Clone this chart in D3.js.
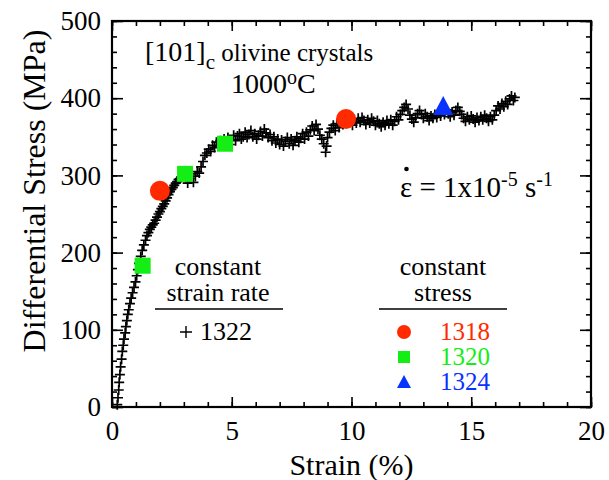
<!DOCTYPE html>
<html>
<head>
<meta charset="utf-8">
<script src="https://cdn.jsdelivr.net/npm/d3@7"></script>
<style>
  body { margin: 0; background: #fff; }
  svg text { font-family: "Liberation Serif", "Times New Roman", serif; fill: #000; }
</style>
</head>
<body>
<svg id="chart" width="609" height="480"></svg>
<script>
// constant strain rate run 1322: [strain %, stress MPa]
const run1322 = [
  [0.22,3],[0.25,12],[0.28,22],[0.30,32],[0.33,42],[0.36,52],[0.40,62],[0.43,72],[0.47,80],[0.50,88],
  [0.55,96],[0.58,104],[0.62,112],[0.66,120],[0.70,126],[0.75,134],[0.80,141],[0.86,148],[0.92,155],[0.98,162],
  [1.03,170],[1.08,178],[1.13,186],[1.20,195],[1.26,203],[1.33,210],[1.40,216],[1.46,222],[1.52,226],[1.58,230],
  [1.64,233],[1.70,236],[1.76,238],[1.82,242],[1.88,246],[1.94,250],[2.00,253],[2.06,257],[2.12,260],[2.18,263],
  [2.24,267],[2.30,271],[2.36,275],[2.42,279],[2.48,282],[2.54,284],[2.60,287],[2.66,290],[2.72,292],[2.78,295],
  [2.84,296],[2.90,298],[2.96,299],[3.00,300],[3.08,297],[3.16,290],[3.24,296],[3.32,302],[3.40,291],[3.48,299],
  [3.56,305],[3.64,303],[3.72,311],[3.80,318],[3.88,326],[3.96,329],[4.04,334],[4.12,331],[4.20,339],[4.28,336],
  [4.36,343],[4.44,338],[4.52,345],[4.60,341],[4.68,347],[4.76,343],[4.84,349],[4.92,340],[5.00,346],[5.08,352],
  [5.16,345],[5.24,351],[5.32,354],[5.40,347],[5.48,350],[5.56,356],[5.64,349],[5.72,353],[5.80,358],[5.88,350],
  [5.96,354],[6.04,347],[6.12,352],[6.20,357],[6.28,351],[6.36,360],[6.44,355],[6.52,349],[6.60,353],[6.68,345],
  [6.76,350],[6.84,342],[6.92,347],[7.00,340],[7.08,346],[7.16,338],[7.24,344],[7.32,349],[7.40,341],[7.48,347],
  [7.56,339],[7.64,345],[7.72,350],[7.80,343],[7.88,348],[7.96,354],[8.04,347],[8.12,356],[8.20,351],[8.28,359],
  [8.36,364],[8.44,358],[8.52,366],[8.60,360],[8.68,352],[8.76,347],[8.84,341],[8.92,330],[8.96,338],[9.00,349],
  [9.08,356],[9.16,361],[9.24,365],[9.32,358],[9.40,367],[9.48,362],[9.56,370],[9.64,366],[9.72,372],[9.80,368],
  [9.88,375],[9.96,370],[10.04,365],[10.12,372],[10.20,368],[10.28,374],[10.36,369],[10.44,375],[10.52,371],[10.60,366],
  [10.68,372],[10.76,368],[10.84,374],[10.92,370],[11.00,365],[11.08,371],[11.16,367],[11.24,363],[11.32,369],[11.40,365],
  [11.48,371],[11.56,367],[11.64,372],[11.72,365],[11.80,370],[11.88,376],[11.96,372],[12.04,379],[12.12,384],[12.20,388],
  [12.28,392],[12.36,386],[12.44,378],[12.52,373],[12.60,369],[12.68,375],[12.76,380],[12.84,384],[12.92,379],[13.00,374],
  [13.08,380],[13.16,376],[13.24,371],[13.32,377],[13.40,374],[13.48,379],[13.56,375],[13.64,381],[13.72,377],[13.80,383],
  [13.88,379],[13.96,385],[14.04,380],[14.12,376],[14.20,382],[14.28,378],[14.36,384],[14.44,388],[14.52,383],[14.60,379],
  [14.68,374],[14.76,370],[14.84,376],[14.92,372],[15.00,377],[15.08,373],[15.16,369],[15.24,375],[15.32,371],[15.40,376],
  [15.48,372],[15.56,378],[15.64,374],[15.72,370],[15.80,376],[15.88,372],[15.96,378],[16.04,384],[16.12,390],[16.20,386],
  [16.28,393],[16.36,389],[16.44,396],[16.52,392],[16.60,399],[16.68,403],[16.76,397],[16.82,401]
];

// constant stress runs
const run1318 = [[2.0,280],[9.77,373]];
const run1320 = [[1.28,183],[3.05,302],[4.72,341]];
const run1324 = [[13.83,390]];

const xTicks = [0, 5, 10, 15, 20];
const yTicks = [0, 100, 200, 300, 400, 500];

const RED = "#ff2a00", GREEN = "#14ee14", BLUE = "#0a32ff";

const svg = d3.select("#chart");
const margin = {left: 112, right: 18, top: 21, bottom: 73};
const W = 609, H = 480;

const x = d3.scaleLinear().domain([0, 20]).range([margin.left, W - margin.right]);
const y = d3.scaleLinear().domain([0, 500]).range([H - margin.bottom, margin.top]);

// axes: ticks pointing inward on all four sides
function styleAxis(g) {
  g.attr("font-family", null).attr("font-size", null);
  g.select(".domain").remove();
  g.selectAll("line").attr("stroke", "#000").attr("stroke-width", 1.6);
  g.selectAll("text").style("font-size", "27px");
}
const minorX = d3.range(0, 21, 1), minorY = d3.range(0, 501, 20);

svg.append("g").attr("transform", `translate(0,${y(0)})`)
  .call(d3.axisBottom(x).tickValues(minorX).tickSize(-5).tickFormat(""))
  .call(styleAxis);
svg.append("g").attr("transform", `translate(0,${y(0)})`)
  .call(d3.axisBottom(x).tickValues(xTicks).tickSize(-10).tickFormat(d3.format("d")))
  .call(styleAxis)
  .call(g => g.selectAll("text").attr("dy", null).attr("y", 33));
svg.append("g").attr("transform", `translate(0,${y(500)})`)
  .call(d3.axisTop(x).tickValues(minorX).tickSize(-5).tickFormat(""))
  .call(styleAxis);
svg.append("g").attr("transform", `translate(0,${y(500)})`)
  .call(d3.axisTop(x).tickValues(xTicks).tickSize(-10).tickFormat(""))
  .call(styleAxis);

svg.append("g").attr("transform", `translate(${x(0)},0)`)
  .call(d3.axisLeft(y).tickValues(minorY).tickSize(-5).tickFormat(""))
  .call(styleAxis);
svg.append("g").attr("transform", `translate(${x(0)},0)`)
  .call(d3.axisLeft(y).tickValues(yTicks).tickSize(-11).tickFormat(d3.format("d")))
  .call(styleAxis)
  .call(g => g.selectAll("text").attr("x", -11));
svg.append("g").attr("transform", `translate(${x(20)},0)`)
  .call(d3.axisRight(y).tickValues(minorY).tickSize(-5).tickFormat(""))
  .call(styleAxis);
svg.append("g").attr("transform", `translate(${x(20)},0)`)
  .call(d3.axisRight(y).tickValues(yTicks).tickSize(-11).tickFormat(""))
  .call(styleAxis);

// frame
svg.append("rect")
  .attr("x", x(0)).attr("y", y(500))
  .attr("width", x(20) - x(0)).attr("height", y(0) - y(500))
  .attr("fill", "none").attr("stroke", "#000").attr("stroke-width", 2.2);

// axis titles
svg.append("text").attr("x", (x(0) + x(20)) / 2).attr("y", 475)
  .attr("text-anchor", "middle").style("font-size", "30px").text("Strain (%)");
svg.append("text")
  .attr("transform", "translate(45,191) rotate(-90)")
  .attr("text-anchor", "middle").style("font-size", "32px").text("Differential Stress (MPa)");

// plus markers
svg.append("g").selectAll("path")
  .data(run1322).join("path")
  .attr("transform", d => `translate(${x(d[0])},${y(d[1])})`)
  .attr("d", "M-5,0H5M0,-5V5")
  .attr("stroke", "#000").attr("stroke-width", 1.7).attr("fill", "none");

// constant stress markers
svg.append("g").selectAll("circle")
  .data(run1318).join("circle")
  .attr("cx", d => x(d[0])).attr("cy", d => y(d[1])).attr("r", 10)
  .attr("fill", RED);
svg.append("g").selectAll("rect")
  .data(run1320).join("rect")
  .attr("x", d => x(d[0]) - 8).attr("y", d => y(d[1]) - 8)
  .attr("width", 16).attr("height", 16).attr("fill", GREEN);
svg.append("g").selectAll("path")
  .data(run1324).join("path")
  .attr("transform", d => `translate(${x(d[0])},${y(d[1]) + 2})`)
  .attr("d", "M0,-12L10,7H-10Z").attr("fill", BLUE);

// annotations
const t1 = svg.append("text").attr("x", 145).attr("y", 61);
t1.append("tspan").style("font-size", "28px").text("[101]");
t1.append("tspan").attr("dy", 8).style("font-size", "21px").text("c");
t1.append("tspan").attr("dy", -8).style("font-size", "25px").text(" olivine crystals");

const t2 = svg.append("text").attr("x", 231).attr("y", 93).style("font-size", "28px");
t2.append("tspan").text("1000");
t2.append("tspan").attr("dy", -9).style("font-size", "20px").text("o");
t2.append("tspan").attr("dy", 9).text("C");

const t3 = svg.append("text").attr("x", 400).attr("y", 197).style("font-size", "29px");
t3.append("tspan").text("\u03B5 = 1x10");
t3.append("tspan").attr("dy", -11).style("font-size", "20px").text("-5");
t3.append("tspan").attr("dy", 11).text(" s");
t3.append("tspan").attr("dy", -11).style("font-size", "20px").text("-1");
svg.append("circle").attr("cx", 406.5).attr("cy", 169).attr("r", 2.3).attr("fill", "#000");

// legend: constant strain rate
svg.append("text").attr("x", 218).attr("y", 275).attr("text-anchor", "middle")
  .style("font-size", "26px").text("constant");
svg.append("text").attr("x", 218).attr("y", 301).attr("text-anchor", "middle")
  .style("font-size", "26px").text("strain rate");
svg.append("line").attr("x1", 155).attr("x2", 283).attr("y1", 309).attr("y2", 309)
  .attr("stroke", "#000").attr("stroke-width", 1.3);
svg.append("path").attr("transform", "translate(186,332)").attr("d", "M-6,0H6M0,-6V6")
  .attr("stroke", "#000").attr("stroke-width", 1.4);
svg.append("text").attr("x", 200).attr("y", 340).style("font-size", "26px").text("1322");

// legend: constant stress
svg.append("text").attr("x", 443).attr("y", 275).attr("text-anchor", "middle")
  .style("font-size", "26px").text("constant");
svg.append("text").attr("x", 443).attr("y", 301).attr("text-anchor", "middle")
  .style("font-size", "26px").text("stress");
svg.append("line").attr("x1", 379).attr("x2", 507).attr("y1", 309).attr("y2", 309)
  .attr("stroke", "#000").attr("stroke-width", 1.3);

const legendItems = [
  {label: "1318", color: RED, shape: "circle", yy: 332},
  {label: "1320", color: GREEN, shape: "square", yy: 357},
  {label: "1324", color: BLUE, shape: "triangle", yy: 382}
];
legendItems.forEach(it => {
  if (it.shape === "circle") {
    svg.append("circle").attr("cx", 404).attr("cy", it.yy).attr("r", 7).attr("fill", it.color);
  } else if (it.shape === "square") {
    svg.append("rect").attr("x", 398).attr("y", it.yy - 6).attr("width", 12).attr("height", 12).attr("fill", it.color);
  } else {
    svg.append("path").attr("transform", `translate(404,${it.yy})`).attr("d", "M0,-7L7,6H-7Z").attr("fill", it.color);
  }
  svg.append("text").attr("x", 440).attr("y", it.yy + 8).style("fill", it.color)
    .style("font-size", "25px").text(it.label);
});
</script>
</body>
</html>
